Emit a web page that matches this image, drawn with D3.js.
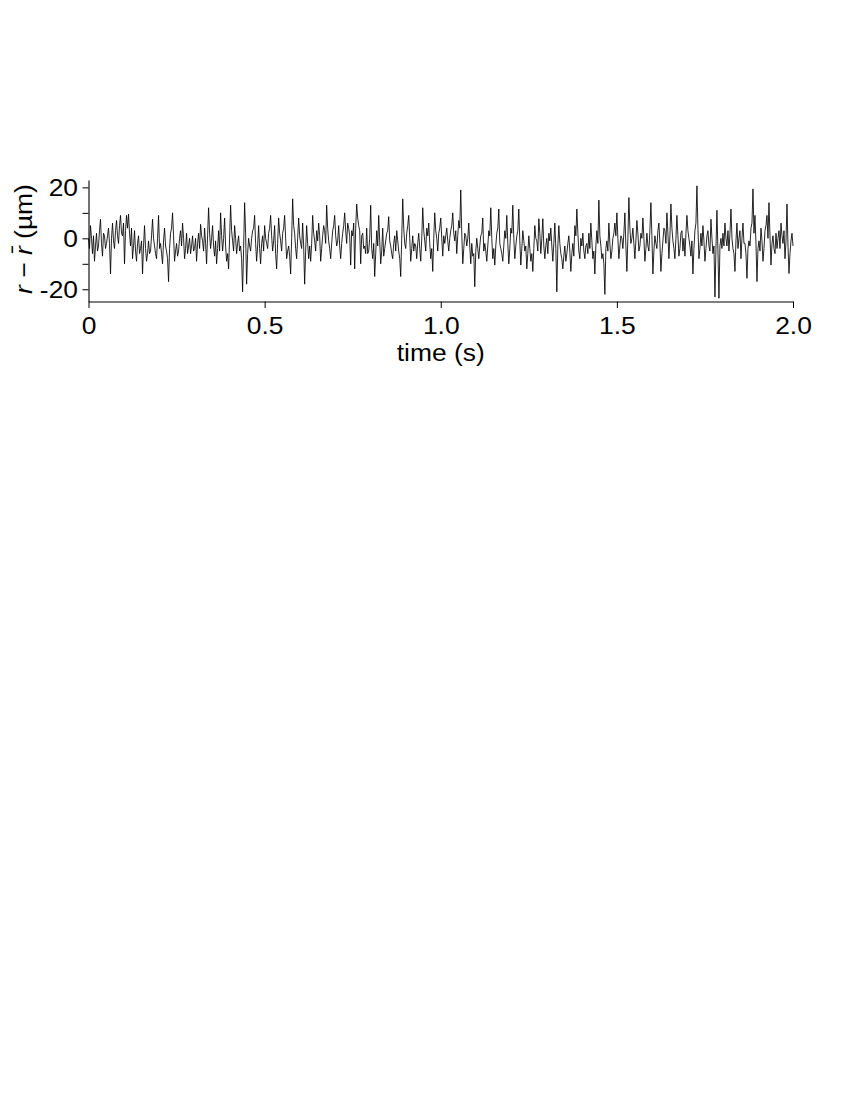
<!DOCTYPE html>
<html>
<head>
<meta charset="utf-8">
<script src="https://cdn.jsdelivr.net/npm/d3@7"></script>
<style>
  html, body { margin: 0; padding: 0; background: #fff; }
  svg { display: block; }
  text { font-family: "Liberation Sans", Arial, sans-serif; }
</style>
</head>
<body>
<svg id="chart" width="850" height="1100"></svg>
<script>
// ---- data ----
const timeStart = 0;      // s
const timeEnd = 2.0;      // s
// displacement r - r̄ (µm), evenly sampled between timeStart and timeEnd
const displacement = [
  0,-4,5,0,-6,1,-9,-3,2,-5,-3,3,7.5,-2,-7,2,1,-4,-2,1,
  4,-2,-14,0,6,-1,-4,3,7,1,-2,5,9,2,1,6,-10,3,9,4,
  9.5,2,-3,4,-8,-3,3,-5,-9,-2,1,-6,-4,-1,-14,-3,5,-4,-9,-6,
  -1,-6,-5,1,7.5,0,-3,-6,-8,0,9,-4,-2,-6,-10,-1,4,-3,-5,-8,
  -17,-4,2,4,10,1,-9,-5,-2,-7,-5,0,3,-3,6,0,-8,-4,2,-6,
  -3,0,-6,-3,1,-5,-4,0,-9,-2,2,-4,5.5,1,-1,-5,4,-2,-10,1,
  12,2,-4,0,5,-3,-7,-1,-10,-4,3,-5,10,1,-5,0,8,-3,-9,-6,
  -12,0,13,3,-1,-5,5,0,-6,-2,1,-5,-3,-8,-21,-4,14,2,-18,-6,
  0,-3,-5,0,3,4,9,-2,-9,-3,5,-4,-10,-2,1,-5,5,0,-2,-4,
  2,4,9,1,-5,-1,5,-6,-12,-2,8,2,-1,-5,2,4,9,0,-8,-5,
  -3,-7,-14,0,15.5,5,2,-4,-8,0,8,1,-2,-4,6,-3,-18,-5,5,-2,
  -8,-3,-9,-2,9,2,-1,-5,3,-1,6,1,-9,-4,1,5,3,-2,
  13,4,-1,-4,-8,-2,3,5,9,1,-3,-1,5,-3,-8,-2,2,5,10,3,
  -2,6,4,1,-10.5,3,1,6,-12,4,13.5,8,5,3,-10,1,2,-4,-3,-6,
  4,-6,-5,0,13,-4,-8,-2,-15,-6,3,-3,9,-1,-10,-5,4,-7,-4,-1,
  2,3,8.5,-1,-3,-6,-8,-2,1,-5,3,-1,-5,-8,-15,0,15.5,4,-2,-4,
  2,5,9,0,-9,-4,1,-5,-2,-3,-8,-2,2,-4,-9,0,12,3,-1,-5,
  4,1,6,-2,-8,-4,-13,0,10,3,0,-5,2,4,8,0,-7,1,
  -2,1,4,-1,-5,0,3,5,10,2,-1,3,-6,1,7,4,19,2,-10,-4,
  2,1,-3,0,6,-3,-10,-2,-7,-6,-19,-5,0,-4,-8,-3,1,2,8,-5,
  -2,-5,-9,-3,3,1,12,0,-8,-4,-10.5,-3,2,4,11.5,-2,-4,-6,-9,-3,
  3,0,9,-2,-10,-4,4,2,13,0,-8,-3,1,3,11.5,-1,-10.5,-4,3,-1,
  -5,-3,-12,-6,1,-4,-9,-6,-13,-4,5,0,-1,-5,7.7,2,-6,0,7.7,-3,
  -8,-3,0,-6,2,-1,4,-3,-9,-2,6,-4,-21,-3,5,-2,-6,-8,
  -12,-7,-3,-9,-6,-2,1,-5,-13,-6,-2,-7,5,1,11.5,2,-5,-8,0,-3,
  2,-5,-8,-3,-2,-6,2,-4,6,-1,-8,-5,-14,-3,3,-2,15,1,-3,-8,
  -6,-10,-22,-4,-1,-5,6,-2,-8,-5,0,2,6,1,10,0,-8,-3,1,0,
  -4,2,10,-3,-13,0,16,4,-2,0,4,-2,-8,-1,7,2,-5,-3,2,0,
  8,0,-9,-4,2,-3,-5,3,14,1,-14,-5,1,-2,-4,3,6,-2,-13,-6,
  -1,4,3,-2,10,2,-8,1,13.5,4,-1,-4,-8,0,9,1,-7,-4,
  2,3,-5,0,-7,2,9,3,0,-3,-7,-1,-14,-4,3,6,20.6,4,-8,-4,
  2,-3,5,-1,-9,-4,1,3,-3,-5,7.5,0,-6,-3,-23,-4,11,-5,-23.5,-3,
  0,-4,2,-3,6,0,-3,3,-5,2,11.5,0,-4,-6,-13,-1,6,-4,0,3,
  -8,0,6,-2,-2,-6,-15.7,-4,-1,-3,4,6,19.4,2,9,-2,-17,-4,-1,-5,
  4,-1,-9,-4,3,5,9,0,14,1,-10.5,-2,1,-4,-6,2,-4,0,3,-4,
  6,1,-2,3,-8,-1,13.5,-3,-13.8,-6,-1,2,-3
];
const xTickValues = [0, 0.5, 1.0, 1.5, 2.0];
const xTickLabels = ["0", "0.5", "1.0", "1.5", "2.0"];
const yTickValues = [-20, -10, 0, 10, 20];
const yTickLabels = ["-20", "", "0", "", "20"];
const yDomain = [-24.8, 22.9];

// ---- drawing ----
const svg = d3.select("#chart");
const plotLeft = 88.5, plotRight = 793, plotTop = 180, plotBottom = 301.5;
const fontSize = 24;
const stretch = 1.1;

const x = d3.scaleLinear().domain([timeStart, timeEnd]).range([plotLeft, plotRight]);
const y = d3.scaleLinear().domain(yDomain).range([plotBottom, plotTop]);

const n = displacement.length;
const points = displacement.map((v, i) => [timeStart + (timeEnd - timeStart) * i / (n - 1), v]);

svg.append("path")
  .datum(points)
  .attr("fill", "none")
  .attr("stroke", "#000")
  .attr("stroke-width", 0.85)
  .attr("d", d3.line().x(d => x(d[0])).y(d => y(d[1])));

// x axis
const xAxis = svg.append("g")
  .attr("transform", `translate(0,${plotBottom})`)
  .call(d3.axisBottom(x).tickValues(xTickValues)
    .tickFormat((d, i) => xTickLabels[i]).tickSize(6.5).tickSizeOuter(0));
xAxis.select(".domain").attr("stroke", "#000").attr("stroke-width", 1.1);
xAxis.selectAll(".tick line").attr("stroke", "#000").attr("stroke-width", 1);
xAxis.selectAll(".tick text")
  .attr("fill", "#000")
  .attr("y", 32.5).attr("dy", 0)
  .attr("transform", `scale(${stretch},1)`)
  .style("font-size", fontSize + "px")
  .style("font-family", '"Liberation Sans", Arial, sans-serif');

// y axis
const yAxis = svg.append("g")
  .attr("transform", `translate(${plotLeft},0)`)
  .call(d3.axisLeft(y).tickValues(yTickValues)
    .tickFormat((d, i) => yTickLabels[i]).tickSize(6).tickSizeOuter(0));
yAxis.select(".domain").attr("stroke", "#000").attr("stroke-width", 1.1);
yAxis.selectAll(".tick line").attr("stroke", "#000").attr("stroke-width", 1);
yAxis.selectAll(".tick text")
  .attr("fill", "#000")
  .attr("x", -10.5 / stretch)
  .attr("dy", "0.34em")
  .attr("transform", `scale(${stretch},1)`)
  .style("font-size", fontSize + "px")
  .style("font-family", '"Liberation Sans", Arial, sans-serif');

// x title
svg.append("text")
  .attr("transform", `translate(${x(1.0)},361) scale(${stretch},1)`)
  .attr("text-anchor", "middle")
  .style("font-size", fontSize + "px")
  .text("time (s)");

// y title
const yTitle = svg.append("text")
  .attr("transform", `translate(32,239) rotate(-90) scale(${stretch},1)`)
  .attr("text-anchor", "middle")
  .style("font-size", fontSize + "px");
yTitle.append("tspan").style("font-style", "italic").text("r");
yTitle.append("tspan").text(" \u2212 ");
yTitle.append("tspan").style("font-style", "italic").text("r\u0304");
yTitle.append("tspan").text(" (\u00b5m)");
</script>
</body>
</html>
